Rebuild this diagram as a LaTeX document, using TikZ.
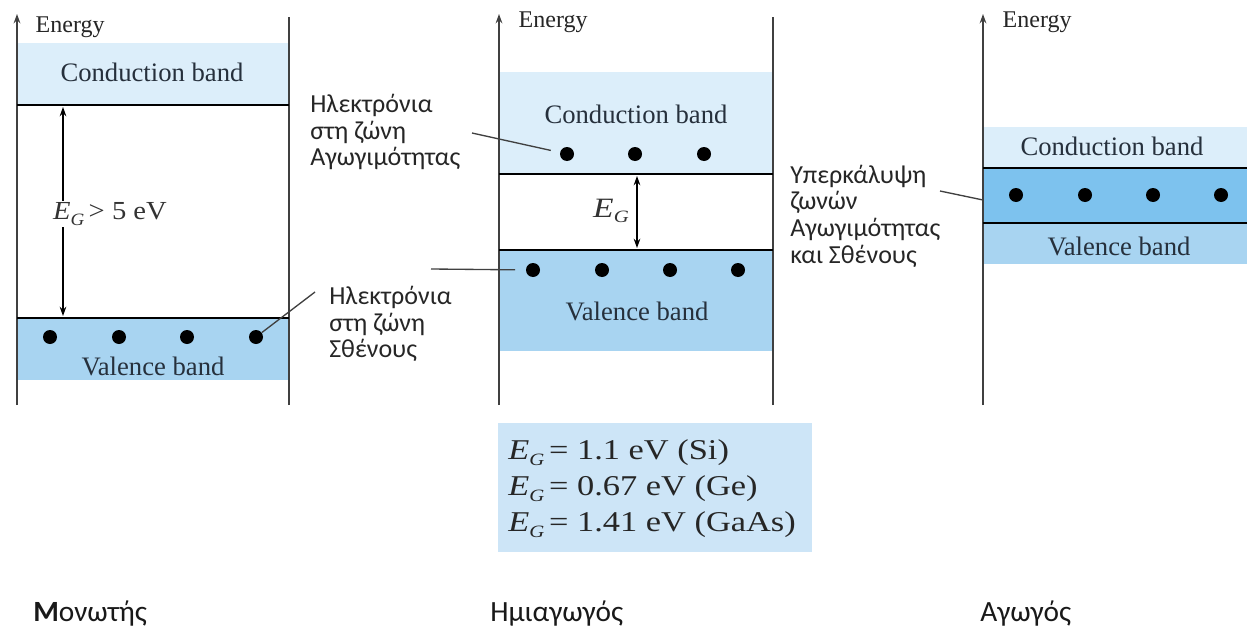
\documentclass[tikz,border=0pt]{standalone}
\usepackage{fontspec}
\setmainfont{Liberation Serif}
\newfontfamily\grk{Carlito}
\newfontfamily\widefont[FakeStretch=1.2]{Liberation Serif}
\newfontfamily\midfont[FakeStretch=1.1]{Liberation Serif}
\usetikzlibrary{arrows.meta}
\definecolor{cbc}{HTML}{DCEEFA}
\definecolor{vbc}{HTML}{A8D4F1}
\definecolor{ovc}{HTML}{7DC2EE}
\definecolor{boxc}{HTML}{CDE5F7}
\definecolor{bandtxt}{HTML}{26303C}
\definecolor{axc}{HTML}{404040}
\tikzset{
  axis/.style={draw=axc, line width=1.2pt, -{Stealth[length=7pt,width=5pt]}},
  side/.style={draw=axc, line width=1.2pt},
  edge/.style={draw=black, line width=2pt},
  gap/.style={draw=black, line width=0.9pt, {Stealth[length=7pt,width=5pt]}-{Stealth[length=7pt,width=5pt]}},
  lead/.style={draw=axc, line width=1pt},
  electron/.style={circle, fill=black, inner sep=0pt, minimum size=10.5pt},
  bandlbl/.style={text=bandtxt, font=\fontsize{20}{24}\selectfont},
  energylbl/.style={anchor=west, text=black!85, font=\fontsize{18}{22}\selectfont},
  grklbl/.style={anchor=west, align=left, text=black!85, inner sep=0pt, font=\grk\fontsize{19.5}{20}\selectfont},
  titlelbl/.style={anchor=west, inner sep=0pt, text=black!90, font=\grk\fontsize{22}{26}\selectfont},
}
\newcommand{\EG}{\textit{E}\raisebox{-0.45ex}{\fontsize{13}{13}\selectfont\textit{G}}}
\begin{document}
\begin{tikzpicture}[x=0.75pt,y=-0.75pt]
\useasboundingbox (0,0) rectangle (1247,639);
\fill[white] (0,0) rectangle (1247,639);

% ---------- Panel 1: insulator ----------
\fill[cbc] (17,43) rectangle (289,105);
\fill[vbc] (17,318) rectangle (289,380);
\coordinate (a1b) at (17,405);
\coordinate (a1t) at (17,14);
\coordinate (r1b) at (289,405);
\coordinate (r1t) at (289,17);
\draw[axis] (a1b) -- (a1t);
\draw[side] (r1b) -- (r1t);
\coordinate (c1l) at (17,105); \coordinate (c1r) at (289,105);
\coordinate (v1l) at (17,318); \coordinate (v1r) at (289,318);
\draw[edge] (c1l) -- (c1r);
\draw[edge] (v1l) -- (v1r);
\node[energylbl] (en1) at (31,27) {Energy};
\node[bandlbl] (cb1) at (152,72) {Conduction band};
\node[bandlbl] (vb1) at (153,366) {Valence band};
\coordinate (g1t) at (63,107);
\coordinate (g1b) at (63,316);
\draw[gap] (g1t) -- (g1b);
\node[fill=white, inner sep=1pt, font=\midfont\fontsize{19.5}{22}\selectfont, text=black!80] (eg1) at (110,214) {\EG\,> 5 eV};
\foreach \i/\x in {1/50,2/119,3/187,4/256} \node[electron] (d1\i) at (\x,337) {};
\coordinate (l1) at (315,292);
\draw[lead] (l1) -- (d14);
\node[grklbl] (t1) at (329,324) {Ηλεκτρόνια\\στη ζώνη\\Σθένους};

% ---------- Panel 2: semiconductor ----------
\fill[cbc] (499,72) rectangle (773,174);
\fill[vbc] (499,250) rectangle (773,351);
\coordinate (a2b) at (499,405);
\coordinate (a2t) at (499,14);
\coordinate (r2b) at (773,405);
\coordinate (r2t) at (773,17);
\draw[axis] (a2b) -- (a2t);
\draw[side] (r2b) -- (r2t);
\coordinate (c2l) at (499,174); \coordinate (c2r) at (773,174);
\coordinate (v2l) at (499,250); \coordinate (v2r) at (773,250);
\draw[edge] (c2l) -- (c2r);
\draw[edge] (v2l) -- (v2r);
\node[energylbl] (en2) at (514,22) {Energy};
\node[bandlbl] (cb2) at (636,114) {Conduction band};
\node[bandlbl] (vb2) at (637,311) {Valence band};
\coordinate (g2t) at (637,176);
\coordinate (g2b) at (637,248);
\draw[gap] (g2t) -- (g2b);
\node[font=\widefont\fontsize{21}{24}\selectfont, text=black!80] (eg2) at (611,211) {\EG};
\foreach \i/\x in {1/567,2/635,3/704} \node[electron] (dc2\i) at (\x,154) {};
\foreach \i/\x in {1/533,2/602,3/670,4/738} \node[electron] (dv2\i) at (\x,270) {};
\coordinate (l2a) at (472,133);
\draw[lead, shorten >=7pt] (l2a) -- (dc21);
\coordinate (l2b) at (431,269);
\draw[lead, shorten >=8pt] (l2b) -- (dv21);
\node[grklbl] (t2) at (310,132) {Ηλεκτρόνια\\στη ζώνη\\Αγωγιμότητας};

% ---------- Panel 3: conductor ----------
\fill[cbc] (983,127) rectangle (1247,168);
\fill[ovc] (983,168) rectangle (1247,223);
\fill[vbc] (983,223) rectangle (1247,264);
\coordinate (a3b) at (983,405);
\coordinate (a3t) at (983,14);
\draw[axis] (a3b) -- (a3t);
\coordinate (c3l) at (983,168); \coordinate (c3r) at (1247,168);
\coordinate (v3l) at (983,223); \coordinate (v3r) at (1247,223);
\draw[edge] (c3l) -- (c3r);
\draw[edge] (v3l) -- (v3r);
\node[energylbl] (en3) at (998,22) {Energy};
\node[bandlbl] (cb3) at (1112,146) {Conduction band};
\node[bandlbl] (vb3) at (1119,246) {Valence band};
\foreach \i/\x in {1/1016,2/1085,3/1153,4/1221} \node[electron] (d3\i) at (\x,195) {};
\coordinate (l3a) at (940,191);
\coordinate (l3b) at (983,200);
\draw[lead] (l3a) -- (l3b);
\node[grklbl] (t3) at (790,216) {Υπερκάλυψη\\ζωνών\\Αγωγιμότητας\\και Σθένους};

% ---------- E_G values box ----------
\fill[boxc] (498,423) rectangle (812,552);
\node[anchor=west, align=left, inner sep=0pt, text=black!85, font=\widefont\fontsize{21.5}{27}\selectfont] (vals) at (508,489)
  {\EG\,= 1.1 eV (Si)\\ \EG\,= 0.67 eV (Ge)\\ \EG\,= 1.41 eV (GaAs)};

% ---------- Titles ----------
\node[titlelbl] (ti1) at (33,614) {\textbf{Μ}ονωτής};
\node[titlelbl] (ti2) at (490,614) {Ημιαγωγός};
\node[titlelbl] (ti3) at (980,614) {Αγωγός};
\end{tikzpicture}
\end{document}
